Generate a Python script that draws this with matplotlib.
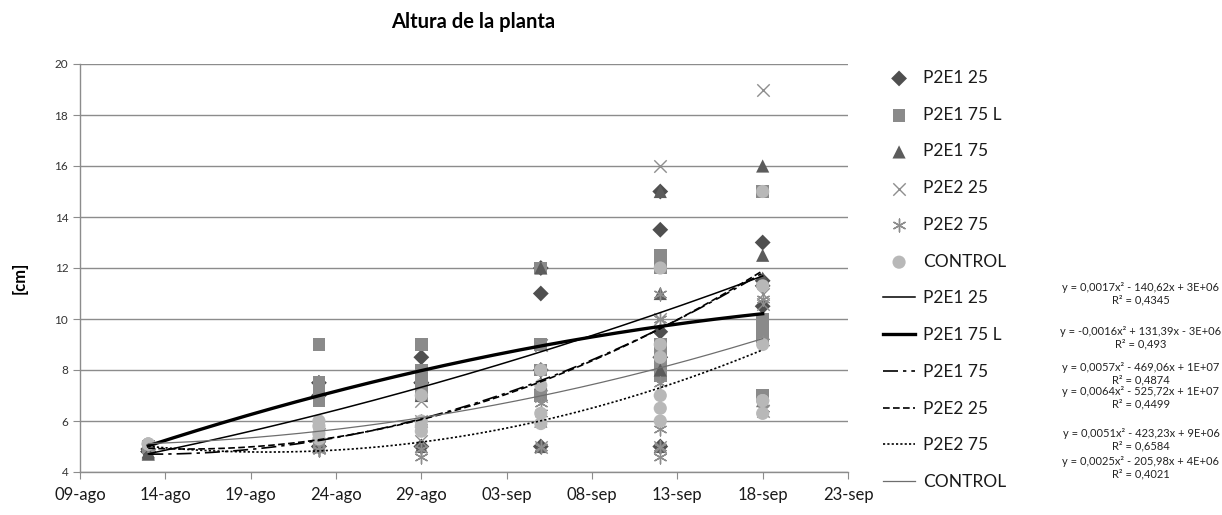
import numpy as np
import pandas as pd
import matplotlib
matplotlib.use("Agg")
import matplotlib.pyplot as plt
import matplotlib.dates as mdates
from matplotlib.ticker import FuncFormatter

plt.rcParams["font.family"] = ["Lato", "DejaVu Sans"]

# =============================================================================
# DATOS (alturas en cm por fecha de medición, varias plantas por fecha)
# =============================================================================

fechas = pd.to_datetime(["2013-08-13", "2013-08-23", "2013-08-29",
                         "2013-09-05", "2013-09-12", "2013-09-18"])

p2e1_25 = [[4.8, 4.9, 4.8], [5, 5, 7, 7.5], [8.5, 5, 7.5, 7.5],
           [11, 12, 8, 5], [15, 13.5, 9.5, 5, 8.5], [13, 11.3, 10.5, 11.5]]
p2e1_75l = [[5, 5, 5], [9, 7.5, 7, 6.8, 5], [9, 8, 7.5, 7],
            [12, 9, 8, 7], [12.5, 12, 9, 8.5, 8.3, 7.8], [15, 10, 9.8, 7, 9.3]]
p2e1_75 = [[4.75, 4.8, 4.7], [5, 5, 5.5], [5, 7, 6],
           [12, 5, 6, 7.5], [15, 11, 5, 8], [16, 12.5, 11.6, 6.8]]
p2e2_25 = [[5, 5, 5], [5, 5.5, 5], [6, 5.2, 6.8],
           [9, 7, 5, 9], [16, 8.5, 5, 10], [19, 11, 10.6, 6.4]]
p2e2_75 = [[5, 5, 5], [4.85, 4.85, 4.85], [6, 4.9, 4.6],
           [6.3, 6.7, 5], [11, 10, 7.5, 5, 5.7, 4.6], [10.8, 6.5, 9.1]]
control = [[5.1, 5.1, 5.1], [6, 5.8, 5.5, 5.3], [7, 6, 5.8, 5.6],
           [8, 6.3, 5.9, 7.4], [12, 9, 8.5, 7, 6.5, 6.0], [15, 11.3, 9, 6.8, 6.8, 6.3]]

series = ["P2E1 25", "P2E1 75 L", "P2E1 75", "P2E2 25", "P2E2 75", "CONTROL"]
valores = [p2e1_25, p2e1_75l, p2e1_75, p2e2_25, p2e2_75, control]

ecuaciones = [
    "y = 0,0017x² - 140,62x + 3E+06\nR² = 0,4345",
    "y = -0,0016x² + 131,39x - 3E+06\nR² = 0,493",
    "y = 0,0057x² - 469,06x + 1E+07\nR² = 0,4874",
    "y = 0,0064x² - 525,72x + 1E+07\nR² = 0,4499",
    "y = 0,0051x² - 423,23x + 9E+06\nR² = 0,6584",
    "y = 0,0025x² - 205,98x + 4E+06\nR² = 0,4021",
]

meses = {8: "ago", 9: "sep"}

# estilos
marcadores = ["D", "s", "^", "x", (6, 2, 0), "o"]
tam_marc = [65, 85, 90, 80, 85, 90]
col_marc = ["#4f4f4f", "#8a8a8a", "#5c5c5c", "#8e8e8e", "#8e8e8e", "#b8b8b8"]
col_lin = ["black", "black", "black", "black", "black", "#6e6e6e"]
ancho_lin = [1.1, 2.4, 1.2, 1.2, 1.2, 0.9]
estilo_lin = ["-", "-", (0, (9, 3, 2, 3)), (0, (4, 2)), (0, (1.3, 1.3)), "-"]

# =============================================================================
# FIGURA
# =============================================================================

W, H = 1222, 515
fig = plt.figure(figsize=(W / 100, H / 100), dpi=100)
ax = fig.add_axes([80 / W, 1 - 472 / H, (848 - 80) / W, (472 - 64) / H])

x_fechas = mdates.date2num(fechas)
x0 = x_fechas[0]

handles_pts, handles_lin = [], []
for i, (nombre, datos) in enumerate(zip(series, valores)):
    xs = np.concatenate([[x] * len(v) for x, v in zip(x_fechas, datos)])
    ys = np.concatenate(datos)
    if marcadores[i] in ("x", (6, 2, 0)):
        h = ax.scatter(xs, ys, marker=marcadores[i], s=tam_marc[i], c=col_marc[i],
                       linewidths=1.0, zorder=3 + i)
    else:
        h = ax.scatter(xs, ys, marker=marcadores[i], s=tam_marc[i], color=col_marc[i],
                       edgecolors="none", zorder=3 + i)
    handles_pts.append(h)

# líneas de tendencia polinómicas (orden 2), como en Excel
for i, (nombre, datos) in enumerate(zip(series, valores)):
    xs = np.concatenate([[x] * len(v) for x, v in zip(x_fechas, datos)]) - x0
    ys = np.concatenate(datos)
    coef = np.polyfit(xs, ys, 2)
    xx = np.linspace(xs.min(), xs.max(), 200)
    ln, = ax.plot(xx + x0, np.polyval(coef, xx), color=col_lin[i], lw=ancho_lin[i],
                  linestyle=estilo_lin[i], zorder=10)
    handles_lin.append(ln)

# ejes
ax.set_xlim(mdates.date2num(pd.Timestamp("2013-08-09")),
            mdates.date2num(pd.Timestamp("2013-09-23")))
ax.set_ylim(4, 20)
ticks_x = mdates.date2num(pd.date_range("2013-08-09", "2013-09-23", freq="5D"))
ax.set_xticks(ticks_x)
ax.xaxis.set_major_formatter(FuncFormatter(
    lambda v, p: "{:02d}-{}".format(mdates.num2date(v).day, meses[mdates.num2date(v).month])))
ax.set_yticks(np.arange(4, 21, 2))

for s in ["top", "right"]:
    ax.spines[s].set_visible(False)
for s in ["left", "bottom"]:
    ax.spines[s].set_color("#8c8c8c")
    ax.spines[s].set_linewidth(1.0)
ax.grid(axis="y", color="#8c8c8c", lw=1.0)
ax.set_axisbelow(True)
ax.tick_params(axis="x", direction="out", length=5, color="#8c8c8c",
               labelsize=12, labelcolor="#1a1a1a", pad=6)
ax.tick_params(axis="y", direction="out", length=5, color="#8c8c8c",
               labelsize=8.5, labelcolor="#333333")

fig.text(473 / W, 1 - 22 / H, "Altura de la planta", ha="center", va="center",
         fontsize=14.5, fontweight="bold")
fig.text(20 / W, 1 - 278 / H, "[cm]", ha="center", va="center", rotation=90,
         fontsize=12, fontweight="bold")

leg = ax.legend(handles_pts + handles_lin, series + series, loc="upper left",
                bbox_to_anchor=(883 / W, 1 - 70 / H), bbox_transform=fig.transFigure,
                frameon=False, fontsize=12.5, borderpad=0, borderaxespad=0,
                labelspacing=1.195, handlelength=1.85, handletextpad=0.45,
                scatterpoints=1)
for t in leg.get_texts():
    t.set_color("#1a1a1a")

y_ecuaciones = [294, 338, 374, 398, 440, 468]
for eq, yp in zip(ecuaciones, y_ecuaciones):
    fig.text(1141 / W, 1 - yp / H, eq, ha="center", va="center", fontsize=8,
             multialignment="center", linespacing=1.2, color="#222222")

fig.savefig("out.png", dpi=100)
